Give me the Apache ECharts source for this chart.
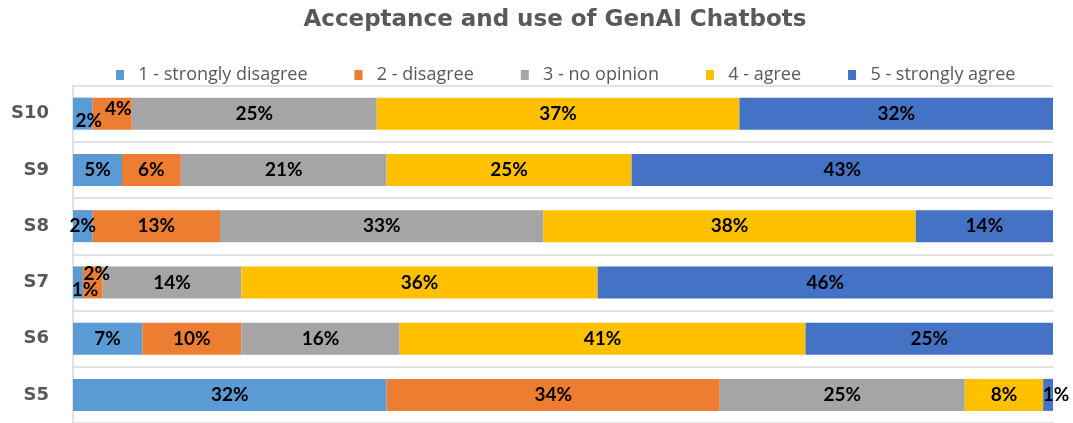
<!DOCTYPE html>
<html>
<head>
<meta charset="utf-8">
<script src="https://cdn.jsdelivr.net/npm/echarts@6/dist/echarts.min.js"></script>
<style>
  html, body { margin: 0; padding: 0; background: #fff; }
  #chart { width: 1073px; height: 423px; }
</style>
</head>
<body>
<div id="chart"></div>
<script>
// categories, bottom to top
const categories = ['S5', 'S6', 'S7', 'S8', 'S9', 'S10'];
const levels = ['1 - strongly disagree', '2 - disagree', '3 - no opinion', '4 - agree', '5 - strongly agree'];
const colors = ['#5B9BD5', '#ED7D31', '#A5A5A5', '#FFC000', '#4472C4'];

// percentages as printed on the bars (S5 .. S10)
const stronglyDisagree = [32, 7, 1, 2, 5, 2];
const disagree         = [34, 10, 2, 13, 6, 4];
const noOpinion        = [25, 16, 14, 33, 21, 25];
const agree            = [8, 41, 36, 38, 25, 37];
const stronglyAgree    = [1, 25, 46, 14, 43, 32];

const seriesValues = [stronglyDisagree, disagree, noOpinion, agree, stronglyAgree];

// moved labels on the thin segments: [level, category] -> offset
const labelOffsets = {
    '0,5': [6, 7],    // S10 2%
    '1,5': [6, -5],   // S10 4%
    '0,2': [7, 7],    // S7 1%
    '1,2': [4, -9],   // S7 2%
    '4,0': [8, 0]     // S5 1%
};

// row totals, so each bar fills 100% like a 100% stacked bar
const rowSums = categories.map((c, i) => seriesValues.reduce((s, arr) => s + arr[i], 0));

const myChart = echarts.init(document.getElementById('chart'));

const series = levels.map((name, li) => ({
    name: name,
    type: 'bar',
    stack: 'total',
    barWidth: 32,
    itemStyle: { color: colors[li] },
    label: {
        show: true,
        position: 'inside',
        color: '#000',
        fontFamily: 'Lato',
        fontWeight: 'bold',
        fontSize: 19,
        formatter: p => p.data.raw + '%'
    },
    data: seriesValues[li].map((v, ci) => {
        const item = { value: v / rowSums[ci] * 100, raw: v };
        const off = labelOffsets[li + ',' + ci];
        if (off) item.label = { offset: off };
        return item;
    })
}));

const option = {
    animation: false,
    title: {
        text: 'Acceptance and use of GenAI Chatbots',
        left: 550,
        textAlign: 'center',
        top: 4,
        textStyle: {
            fontFamily: 'DejaVu Sans',
            fontWeight: 'bold',
            fontSize: 23,
            color: '#595959'
        }
    },
    legend: {
        top: 61,
        left: 111,
        itemGap: 47,
        itemWidth: 8,
        itemHeight: 10,
        icon: 'rect',
        formatter: name => '  ' + name,
        textStyle: {
            fontFamily: 'Open Sans',
            fontSize: 18,
            color: '#595959'
        },
        data: levels
    },
    grid: {
        left: 73,
        right: 20,
        top: 85.5,
        bottom: -4.5
    },
    xAxis: {
        type: 'value',
        min: 0,
        max: 100,
        show: false
    },
    yAxis: {
        type: 'category',
        data: categories,
        axisLine: { show: true, lineStyle: { color: '#D9D9D9', width: 1.5 } },
        axisTick: { show: false },
        splitLine: { show: true, lineStyle: { color: '#D9D9D9', width: 1.5 } },
        axisLabel: {
            margin: 24,
            fontFamily: 'DejaVu Sans',
            fontWeight: 'bold',
            fontSize: 18,
            color: '#595959'
        }
    },
    series: series
};

myChart.setOption(option);
</script>
</body>
</html>
